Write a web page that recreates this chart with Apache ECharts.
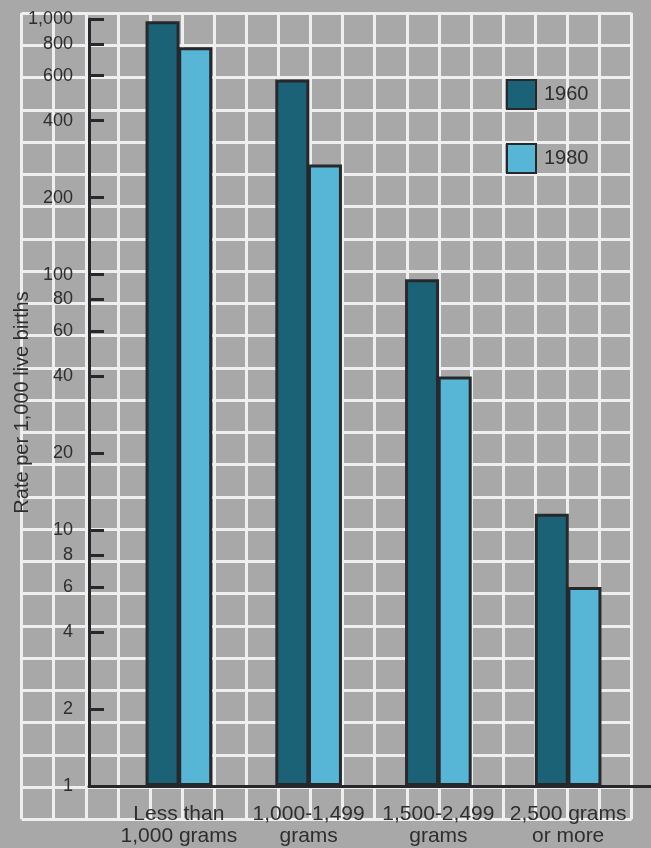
<!DOCTYPE html>
<html>
<head>
<meta charset="utf-8">
<script src="https://cdn.jsdelivr.net/npm/echarts@6/dist/echarts.min.js"></script>
<style>
html,body{margin:0;padding:0;background:#a8a8a8;}
#chart{width:651px;height:848px;}
</style>
</head>
<body>
<div id="chart"></div>
<script>
const categories = ['Less than\n1,000 grams', '1,000-1,499\ngrams', '1,500-2,499\ngrams', '2,500 grams\nor more'];
const rate1960 = [980, 580, 96, 11.6];
const rate1980 = [775, 270, 40, 6.0];
const yTickValues = [1, 2, 4, 6, 8, 10, 20, 40, 60, 80, 100, 200, 400, 600, 800, 1000];
const seriesNames = ['1960', '1980'];

const FONT = '"Liberation Sans", Arial, sans-serif';
const TXT = '#2e2e2e';
const EDGE = '#26282b';

const chart = echarts.init(document.getElementById('chart'), null, {renderer: 'canvas'});
chart.setOption({
  backgroundColor: '#a8a8a8',
  animation: false,
  grid: [
    {left: 114, right: 18, top: 19, bottom: 62, outerBoundsMode: 'none', containLabel: false},
    {left: 21.6, right: 19.5, top: 13, bottom: 28.75, outerBoundsMode: 'none', containLabel: false},
    {left: 89, right: 0, top: 19, bottom: 62, outerBoundsMode: 'none', containLabel: false}
  ],
  legend: {
    orient: 'vertical',
    left: 506, top: 79, padding: 0,
    itemWidth: 29, itemHeight: 29, itemGap: 33,
    icon: 'rect',
    textStyle: {fontFamily: FONT, fontSize: 20, color: TXT, padding: [0, 0, 0, 3]},
    data: seriesNames
  },
  xAxis: [
    {
      type: 'category', gridIndex: 0, data: categories,
      axisLine: {show: false}, axisTick: {show: false},
      axisLabel: {fontFamily: FONT, fontSize: 21, color: TXT, margin: 17, lineHeight: 22, interval: 0}
    },
    {
      type: 'value', gridIndex: 1, min: 0, max: 19, interval: 1,
      axisLine: {show: false}, axisTick: {show: false}, axisLabel: {show: false},
      splitLine: {show: true, lineStyle: {color: '#efefef', width: 3}}, z: 0
    },
    {
      type: 'value', gridIndex: 2, min: 0, max: 1,
      axisLine: {show: true, lineStyle: {color: EDGE, width: 3}},
      axisTick: {show: false}, axisLabel: {show: false}, splitLine: {show: false}, z: 5
    }
  ],
  yAxis: [
    {
      type: 'log', gridIndex: 0, min: 1, max: 1000, logBase: 10, offset: 25,
      name: 'Rate per 1,000 live births', nameLocation: 'middle', nameGap: 57,
      nameMoveOverlap: false,
      nameTextStyle: {fontFamily: FONT, fontSize: 20, color: TXT},
      axisLine: {show: true, lineStyle: {color: EDGE, width: 3}},
      axisTick: {show: true, inside: true, length: 15, lineStyle: {color: EDGE, width: 3}, customValues: yTickValues},
      axisLabel: {fontFamily: FONT, fontSize: 18, color: TXT, margin: 16, customValues: yTickValues,
        formatter: v => Number(v).toLocaleString('en-US')},
      minorTick: {show: false},
      splitLine: {show: false}, z: 5
    },
    {
      type: 'value', gridIndex: 1, min: 0, max: 25, interval: 1, inverse: true,
      axisLine: {show: false}, axisTick: {show: false}, axisLabel: {show: false},
      splitLine: {show: true, lineStyle: {color: '#efefef', width: 3}}, z: 0
    },
    {
      type: 'value', gridIndex: 2, min: 0, max: 1, show: false
    }
  ],
  series: [
    {
      name: seriesNames[0], type: 'bar', xAxisIndex: 0, yAxisIndex: 0,
      data: rate1960, barWidth: 34, barGap: '-4%', z: 3,
      itemStyle: {color: '#1c6277', borderColor: EDGE, borderWidth: 3}
    },
    {
      name: seriesNames[1], type: 'bar', xAxisIndex: 0, yAxisIndex: 0,
      data: rate1980, barWidth: 34, barGap: '-4%', z: 3,
      itemStyle: {color: '#57b5d5', borderColor: EDGE, borderWidth: 3}
    }
  ]
});
</script>
</body>
</html>
